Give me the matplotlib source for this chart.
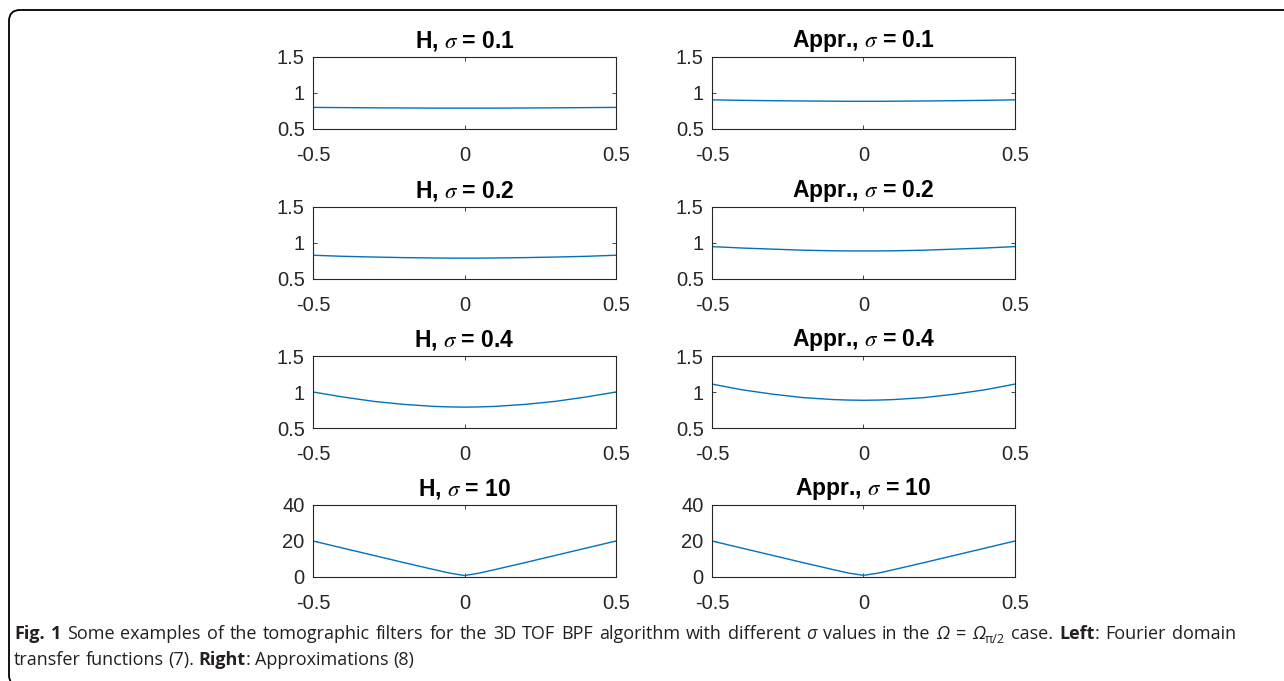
"""
Tomographic filter examples: transfer functions (left) vs approximations (right)
"""

import matplotlib
matplotlib.use('Agg')
import matplotlib.pyplot as plt
from matplotlib.patches import FancyBboxPatch

plt.rcParams['font.family'] = ['Liberation Sans', 'DejaVu Sans']
plt.rcParams['mathtext.fontset'] = 'stix'

# frequency samples
nu = [-0.5, -0.4, -0.3, -0.2, -0.1, -0.05, 0.0, 0.05, 0.1, 0.2, 0.3, 0.4, 0.5]

sigmas = ['0.1', '0.2', '0.4', '10']

h_01 = [0.800, 0.797, 0.794, 0.792, 0.790, 0.790, 0.790, 0.790, 0.790, 0.792, 0.794, 0.797, 0.800]
h_02 = [0.830, 0.815, 0.805, 0.797, 0.792, 0.790, 0.790, 0.790, 0.792, 0.797, 0.805, 0.815, 0.830]
h_04 = [1.000, 0.930, 0.870, 0.828, 0.800, 0.793, 0.790, 0.793, 0.800, 0.828, 0.870, 0.930, 1.000]
h_10 = [20.0, 16.0, 12.0, 8.0, 4.1, 2.2, 0.8, 2.2, 4.1, 8.0, 12.0, 16.0, 20.0]

a_01 = [0.905, 0.898, 0.893, 0.889, 0.886, 0.885, 0.885, 0.885, 0.886, 0.889, 0.893, 0.898, 0.905]
a_02 = [0.950, 0.930, 0.915, 0.900, 0.892, 0.890, 0.890, 0.890, 0.892, 0.900, 0.915, 0.930, 0.950]
a_04 = [1.110, 1.030, 0.970, 0.922, 0.895, 0.888, 0.885, 0.888, 0.895, 0.922, 0.970, 1.030, 1.110]
a_10 = [20.0, 16.0, 12.0, 8.0, 4.1, 2.2, 0.9, 2.2, 4.1, 8.0, 12.0, 16.0, 20.0]

h_curves = [h_01, h_02, h_04, h_10]
a_curves = [a_01, a_02, a_04, a_10]
y_ticks = [[0.5, 1, 1.5], [0.5, 1, 1.5], [0.5, 1, 1.5], [0, 20, 40]]
x_ticks = [-0.5, 0, 0.5]
x_labels = ['-0.5', '0', '0.5']

# caption, split in words; a word is a list of (text, kind) glued together
caption_1 = ([[('Fig.', 'bold')], [('1', 'bold')]]
             + [[(w, 'normal')] for w in
                'Some examples of the tomographic filters for the 3D TOF BPF algorithm with different'.split()]
             + [[('σ', 'italic')]]
             + [[(w, 'normal')] for w in 'values in the'.split()]
             + [[('Ω', 'italic')], [('=', 'normal')], [('Ω', 'italic'), ('π/2', 'sub')],
                [('case.', 'normal')], [('Left', 'bold'), (':', 'normal')],
                [('Fourier', 'normal')], [('domain', 'normal')]])
caption_2 = ([[(w, 'normal')] for w in 'transfer functions (7).'.split()]
             + [[('Right', 'bold'), (':', 'normal')]]
             + [[(w, 'normal')] for w in 'Approximations (8)'.split()])

LINE_COLOR = '#0072BD'
AX_COLOR = '#262626'
CAP_COLOR = '#231f20'
CAP_FONT = 'Open Sans'
CAP_SIZE = 13.0
W, H = 1284, 681


def style_axes(ax, yt):
    """MATLAB-ish axes: inward ticks on all sides, dark grey box"""
    ax.set_xlim(-0.5, 0.5)
    ax.set_ylim(yt[0], yt[-1])
    ax.set_xticks(x_ticks)
    ax.set_xticklabels(x_labels)
    ax.set_yticks(yt)
    ax.set_yticklabels([f'{v:g}' for v in yt])
    ax.tick_params(direction='in', length=3, width=0.6, top=True, right=True,
                   labelsize=14.5, colors=AX_COLOR)
    ax.tick_params(axis='x', pad=12)
    ax.tick_params(axis='y', pad=6)
    for sp in ax.spines.values():
        sp.set_color(AX_COLOR)
        sp.set_linewidth(0.8)


def draw_words(fig, renderer, x0, y, words, right=None):
    """
    Writes one caption line word by word.
    If right is given (pixels) the spaces get stretched so the line is justified
    """
    probe = fig.text(0, 0, 'x x', fontsize=CAP_SIZE, family=CAP_FONT)
    probe2 = fig.text(0, 0, 'xx', fontsize=CAP_SIZE, family=CAP_FONT)
    space = probe.get_window_extent(renderer).width - probe2.get_window_extent(renderer).width
    probe.remove()
    probe2.remove()

    placed = []
    x = x0
    for word in words:
        artists = []
        for text, kind in word:
            fs = CAP_SIZE * 0.7 if kind == 'sub' else CAP_SIZE
            dy = -4 if kind == 'sub' else 0
            t = fig.text(x / W, (H - y + dy) / H, text, fontsize=fs, family=CAP_FONT, color=CAP_COLOR,
                         weight='bold' if kind == 'bold' else 'normal',
                         style='italic' if kind == 'italic' else 'normal',
                         va='baseline', ha='left')
            w = t.get_window_extent(renderer).width
            artists.append((t, x, dy))
            x += w
        placed.append(artists)
        x += space

    if right is not None and len(placed) > 1:
        natural_end = x - space
        extra = (right - natural_end) / (len(placed) - 1)
        for k, artists in enumerate(placed):
            for t, xx, dy in artists:
                t.set_x((xx + k * extra) / W)


fig = plt.figure(figsize=(W / 100, H / 100), dpi=100)

# axes boxes in pixels (left, top), size shared
col_left = [313, 712]
row_top = [57, 207, 356, 505]
ax_w, ax_h = 303, 72

for i, sig in enumerate(sigmas):
    for j, (name, curve) in enumerate([('H', h_curves[i]), ('Appr.', a_curves[i])]):
        ax = fig.add_axes([col_left[j] / W, (H - row_top[i] - ax_h) / H, ax_w / W, ax_h / H])
        ax.plot(nu, curve, color=LINE_COLOR, linewidth=1.0)
        style_axes(ax, y_ticks[i])
        ax.set_title(name + r', $\sigma$ = ' + sig, fontsize=16.5, fontweight='bold',
                     color='black', pad=7)

# rounded frame, runs off the right and bottom edges
frame = FancyBboxPatch((0.09, -0.05), 13.5, 6.76,
                       boxstyle='round,pad=0,rounding_size=0.11',
                       transform=fig.dpi_scale_trans, fill=False,
                       edgecolor='black', linewidth=1.3)
fig.patches.append(frame)

renderer = fig.canvas.get_renderer()
draw_words(fig, renderer, 14, 639, caption_1, right=1236)
draw_words(fig, renderer, 14, 665, caption_2)

fig.savefig('out.png', dpi=100)
